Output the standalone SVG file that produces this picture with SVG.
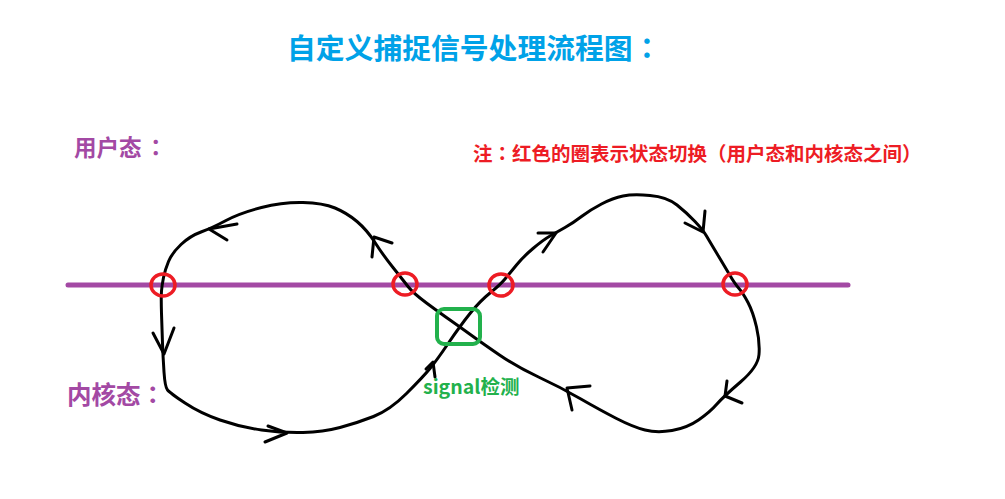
<svg xmlns="http://www.w3.org/2000/svg" width="1005" height="499" viewBox="0 0 1005 499">
<style>
.cn{font-family:"Noto Sans CJK SC","Noto Sans",sans-serif;font-weight:bold}
.p{font-family:"Noto Sans CJK TC","Noto Sans CJK SC",sans-serif}
.curve{fill:none;stroke:#000;stroke-width:3;stroke-linejoin:round;stroke-linecap:round}
.arr{fill:none;stroke:#000;stroke-width:3;stroke-linejoin:round;stroke-linecap:round}
.ring{fill:none;stroke:#ed1c24;stroke-width:3.5}
</style>
<rect width="1005" height="499" fill="#fff"/>
<g id="title"><text class="cn" x="287" y="59" font-size="28.8" fill="#00a2e8">自定义捕捉信号处理流程图<tspan class="p">：</tspan></text></g>
<g id="note"><text class="cn" x="473" y="161" font-size="19.5" fill="#ed1c24">注<tspan class="p">：</tspan>红色的圈表示状态切换<tspan class="p">（</tspan>用户态和内核态之间<tspan class="p">）</tspan></text></g>
<g id="user-label"><text class="cn" x="74" y="156" font-size="22.5" fill="#a349a4">用户态<tspan class="p" dx="3">：</tspan></text></g>
<g id="kernel-label"><text class="cn" x="67" y="404" font-size="24.5" fill="#a349a4">内核态<tspan class="p">：</tspan></text></g>
<g id="boundary"><line x1="68" y1="285" x2="848" y2="285" stroke="#a349a4" stroke-width="5" stroke-linecap="round"/></g>
<g id="connectors">
<path class="curve" d="M430,368.5 Q437,360 448.5,343 Q460,326 470,313.5 Q480,301 490,293 Q500,285 505,279 Q510,273 516.5,265 Q523,257 533,248.5 Q543,240 550,236 Q557,232 565,227.5 Q573,223 581.5,216.5 Q590,210 601.5,204 Q613,198 623,196 Q633,194 650,195.5 Q667,197 677,205 Q687,213 695,221.5 Q703,230 706.5,236 Q710,242 717.5,254.5 Q725,267 730,275.5 Q735,284 739,288.5 Q743,293 748,302.5 Q753,312 756.5,327 Q760,342 759,354.5 Q758,367 740.5,382 Q723,397 716.5,404.5 Q710,412 698.5,420 Q687,428 672,430.5 Q657,433 645,430 Q633,427 616.5,418.5 Q600,410 580,398.5 Q560,387 538.5,377 Q517,367 499.5,355 Q482,343 471,335 Q460,327 450,320 Q440,313 426.5,303 Q413,293 408,286.5 Q403,280 393,267.5 Q383,255 375,242.5 Q367,230 357,221.5 Q347,213 335,208 Q323,203 303,202.5 Q283,202 261.5,207.5 Q240,213 226,220.5 Q212,228 201,232 Q190,236 181,244.5 Q172,253 168.5,261.5 Q165,270 163.5,277.5 Q162,285 161.5,291 Q161,297 161.5,313.5 Q162,330 162.5,343.5 Q163,357 164,372 Q165,387 167.5,390 Q170,393 185,403 Q200,413 220,420 Q240,427 261.5,430 Q283,433 303,432.5 Q323,432 340,427.5 Q357,423 373.5,416.5 Q390,410 406.5,393.5 Q423,377 430,368.5 Z"/>
<polyline class="arr" points="153,333 164,354 174,328"/>
<polyline class="arr" points="237,224 209,229 227,240"/>
<polyline class="arr" points="392,243 374,237 372,257"/>
<polyline class="arr" points="268,426 287,433 265,442"/>
<polyline class="arr" points="426,369 433,362 435,377"/>
<polyline class="arr" points="538,233 556,233 543,252"/>
<polyline class="arr" points="705,211 703,232 685,223"/>
<polyline class="arr" points="727,381 725,396 742,403"/>
<polyline class="arr" points="590,386 567,388 572,410"/>
</g>
<g id="switch-1"><ellipse class="ring" cx="163" cy="285" rx="12" ry="11"/></g>
<g id="switch-2"><ellipse class="ring" cx="405" cy="284" rx="12" ry="11"/></g>
<g id="switch-3"><ellipse class="ring" cx="501" cy="285" rx="12" ry="11"/></g>
<g id="switch-4"><ellipse class="ring" cx="735" cy="284" rx="12" ry="11"/></g>
<g id="signal-check">
<rect x="437" y="309" width="43" height="35" rx="7" fill="none" stroke="#22b14c" stroke-width="4"/>
<text class="cn" x="423" y="394" font-size="19.5" fill="#22b14c">signal检测</text>
</g>
</svg>
